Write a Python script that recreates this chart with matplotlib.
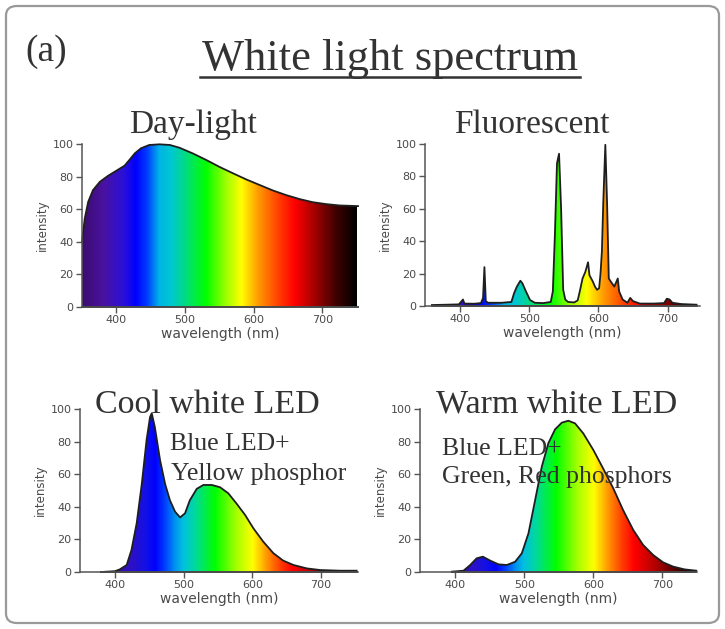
import numpy as np
import matplotlib.pyplot as plt
from matplotlib.colors import LinearSegmentedColormap, Normalize
from matplotlib.patches import FancyBboxPatch
from matplotlib.lines import Line2D

W, H = 725, 629

# spectra, read as (wavelength nm, relative intensity)
daylight_wl = [350, 354, 359, 366, 376, 388, 400, 412, 419, 427, 436, 448, 463,
               478, 492, 511, 531, 550, 570, 589, 609, 628, 647, 667, 686, 706,
               725, 752]
daylight_val = [40, 54.3, 64.5, 71.7, 76.8, 80.5, 83.6, 86.7, 90.2, 94.3, 97.4, 99.4, 99.8,
                99.4, 97.7, 94.3, 90.2, 86, 82, 78.3, 74.8, 71.5, 68.7, 66.2, 64.3, 63.1,
                62.3, 61.9]

fluor_wl = [359, 380, 398, 402, 404, 406, 420, 430, 433, 435, 437, 440, 460, 474,
            478, 482, 487, 490, 494, 501, 508, 520, 531, 534, 537, 540, 543, 546,
            549, 552, 556, 565, 570, 573, 577, 581, 585, 587, 592, 595, 598, 601,
            603, 605, 607, 610, 612.5, 615, 618, 623, 628, 630, 635, 642, 646,
            650, 660, 680, 695, 699, 703, 707, 720, 742]
fluor_val = [0.6, 0.8, 1.0, 3.0, 4.0, 1.5, 1.4, 1.8, 5, 24, 3, 2, 2, 2.5,
             8, 12, 15.6, 14, 10, 3.7, 2, 1.8, 2.5, 9, 44, 88, 94, 60,
             10, 4, 2.5, 2.2, 3.5, 9, 17, 21, 27, 19, 15, 12, 10, 11,
             20, 33.5, 64, 99.5, 64, 17, 15, 12, 17, 9, 4, 2, 5,
             3, 1.5, 1.5, 1.8, 4.5, 4, 2, 1.2, 0.8]

cool_wl = [380, 400, 407, 417, 424, 431.6, 439, 446, 451, 453.5, 458, 465.6, 473,
           480, 487.5, 494.8, 502, 509, 519, 528.7, 541, 553, 565, 577, 589.5,
           601.6, 616, 630.8, 645, 660, 679.5, 699, 728, 752]
cool_val = [0, 0.5, 1.6, 4.3, 13.5, 30, 54, 81, 95, 97.4, 89, 68.7, 54,
            44, 37, 33.5, 36, 44, 51, 53.4, 53.4, 52, 48.3, 42, 35,
            26.8, 18.6, 11.5, 7, 4.3, 2.2, 1.2, 0.8, 0.8]

warm_wl = [395, 412, 421.7, 431, 440, 450.6, 462.6, 474.7, 486.7, 496.4, 506, 515.6,
           525.3, 534.8, 544.5, 554.2, 563.7, 573.4, 585.4, 600, 614, 628.8, 643,
           657.7, 672, 686.6, 701, 715.5, 732, 749]
warm_val = [0.2, 0.8, 4.3, 8.4, 9.4, 7, 4.7, 4.3, 6.3, 11.5, 23.7, 44,
            64.6, 79, 87.5, 91.6, 92.8, 91.2, 85, 74.8, 63.6, 51.3, 38,
            25.8, 16.6, 10.4, 5.9, 3.3, 1.6, 0.8]

# wavelength -> colour stops for the gradient fills
lamp_stops = [(350, "#3c0c6e"), (380, "#4a12a0"), (410, "#2a10d8"), (428, "#0000ff"),
              (445, "#0040ff"), (462, "#00b4e6"), (480, "#00c8d0"), (497, "#00d890"),
              (530, "#00ff00"), (560, "#a0ff00"), (582, "#ffff00"), (607, "#ff9900"),
              (636, "#ff4000"), (660, "#ff0000"), (690, "#a00000"), (720, "#400000"),
              (750, "#000000")]
led_stops = [(350, "#3c0c6e"), (400, "#3a10a8"), (425, "#2a10c8"), (445, "#1010e8"),
             (458, "#0000ff"), (472, "#0040ff"), (486, "#0090f0"), (498, "#00c0e0"),
             (515, "#00d8a0"), (545, "#00ff00"), (575, "#a0ff00"), (600, "#ffff00"),
             (622, "#ff9000"), (640, "#ff4000"), (658, "#ff0000"), (690, "#b00000"),
             (720, "#500000"), (750, "#000000")]


def make_cmap(name, stops):
    return LinearSegmentedColormap.from_list(
        name, [((w - 350) / 400, c) for w, c in stops])


lamp_cmap = make_cmap("lamp", lamp_stops)
led_cmap = make_cmap("led", led_stops)

GRAY = "#555555"


def px_axes(left, right, y0, y100):
    return [left / W, 1 - y0 / H, (right - left) / W, (y0 - y100) / H]


def spectrum_panel(fig, rect, xlim, wl, val, cmap):
    ax = fig.add_axes(rect)
    poly = ax.fill_between(wl, val, 0, color="none", lw=0)
    grad = np.linspace(350, 750, 800).reshape(1, -1)
    im = ax.imshow(grad, cmap=cmap, norm=Normalize(350, 750), aspect="auto",
                   extent=[350, 750, 0, 100], origin="lower", interpolation="bilinear")
    im.set_clip_path(poly.get_paths()[0], transform=ax.transData)
    ax.plot(wl, val, color="#1e1e1e", lw=1.3, clip_on=False)
    ax.plot([wl[0], wl[-1]], [0, 0], color="#1e1e1e", lw=1.3, clip_on=False)
    ax.set_xlim(*xlim)
    ax.set_ylim(0, 100)

    for s in ["top", "right"]:
        ax.spines[s].set_visible(False)
    for s in ["left", "bottom"]:
        ax.spines[s].set_color(GRAY)
        ax.spines[s].set_linewidth(1.1)
    ax.spines["left"].set_bounds(0, 100)
    ax.set_xticks([400, 500, 600, 700])
    ax.set_yticks(range(0, 101, 20))
    ax.tick_params(direction="out", length=4, width=1, color=GRAY,
                   labelcolor="#4a4a4a", labelsize=8, pad=2)
    ax.set_xlabel("wavelength (nm)", fontsize=10, color="#4a4a4a", labelpad=1)
    ax.set_ylabel("intensity", fontsize=8.5, color="#4a4a4a", labelpad=3)
    ax.patch.set_alpha(0)
    return ax


fig = plt.figure(figsize=(W / 100, H / 100), dpi=100)

frame = FancyBboxPatch((6 / W, 6 / H), 713 / W, 617 / H,
                       boxstyle="round,pad=0,rounding_size=0.015",
                       transform=fig.transFigure, fc="white", ec="#9a9a9a", lw=1.6,
                       zorder=-10)
fig.patches.append(frame)

spectrum_panel(fig, px_axes(82, 358, 307, 144), (350, 752), daylight_wl, daylight_val, lamp_cmap)
spectrum_panel(fig, px_axes(425, 700, 306, 144), (349, 747), fluor_wl, fluor_val, lamp_cmap)
spectrum_panel(fig, px_axes(80, 358, 572, 409), (349, 754), cool_wl, cool_val, led_cmap)
spectrum_panel(fig, px_axes(420, 697, 572, 409), (349, 750), warm_wl, warm_val, led_cmap)

serif = "Liberation Serif"
tc = "#333333"


def ftext(x, y, s, size, ha="center"):
    fig.text(x / W, 1 - y / H, s, fontsize=size, family=serif, color=tc,
             ha=ha, va="baseline", zorder=5)


ftext(25, 61, "(a)", 27, ha="left")
ftext(390, 70, "White light spectrum", 32)
fig.add_artist(Line2D([200 / W, 580 / W], [1 - 77 / H, 1 - 77 / H], color=tc, lw=1.8))

ftext(193, 133, "Day-light", 24)
ftext(532, 133, "Fluorescent", 24)
ftext(207, 413, "Cool white LED", 24.5)
ftext(557, 413, "Warm white LED", 24.5)

ftext(170, 450, "Blue LED+", 18.5, ha="left")
ftext(171, 480, "Yellow phosphor", 18.5, ha="left")
ftext(442, 455, "Blue LED+", 18.5, ha="left")
ftext(442, 483, "Green, Red phosphors", 18.5, ha="left")

fig.savefig("out.png", dpi=100)
